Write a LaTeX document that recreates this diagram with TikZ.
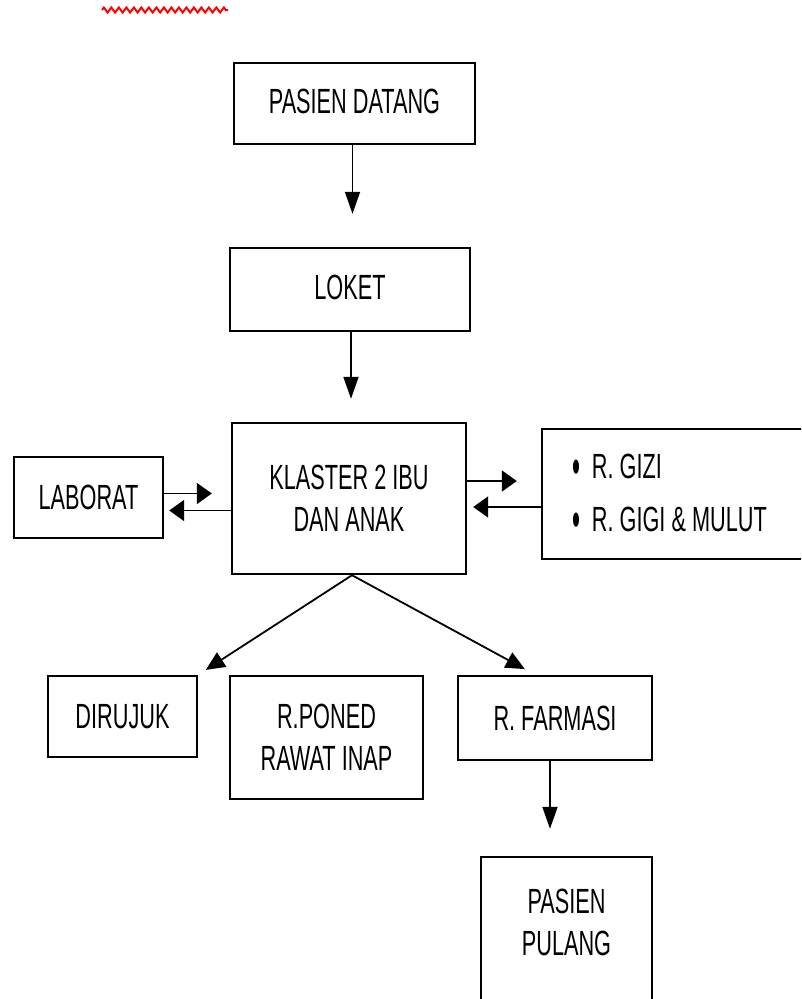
\documentclass[tikz,border=0pt]{standalone}
\usepackage{fontspec}
\setmainfont{Liberation Sans}[FakeStretch=0.62]
\usetikzlibrary{arrows.meta,decorations.pathmorphing,calc}
\newcommand{\mybul}{\raisebox{-5.5pt}{\scalebox{1.05}[1.5]{•}}}
\begin{document}
\begin{tikzpicture}[x=1pt,y=-1pt,
  box/.style={draw,line width=2.4pt,inner sep=0pt,align=center,font=\fontsize{35}{42}\selectfont},
  txt/.style={inner sep=0pt,align=center,font=\fontsize{35}{42}\selectfont},
  conn/.style={line width=1.8pt},
  vtip/.style={conn,-{Triangle[length=22pt,width=15pt]}},
  htip/.style={conn,-{Triangle[length=15pt,width=21pt]}},
  dtip/.style={conn,-{Triangle[length=19pt,width=17pt]}}]
\useasboundingbox (0,0) rectangle (801,999);
\clip (0,0) rectangle (801,999);
% red squiggle
\draw[red,line width=2pt,decorate,decoration={zigzag,segment length=7.5pt,amplitude=2.5pt}] (102,10) -- (228,10);
% boxes
\node[box,minimum width=241pt,minimum height=81pt] (pd) at (354.5,103.5) {\raisebox{4pt}{PASIEN DATANG}};
\node[box,minimum width=240pt,minimum height=83pt] (loket) at (350,289.5) {\raisebox{4pt}{LOKET}};
\node[box,minimum width=234pt,minimum height=151pt] (klaster) at (349,498.5) {KLASTER 2 IBU\\DAN ANAK};
\node[box,minimum width=149pt,minimum height=81pt] (lab) at (88.5,497.5) {LABORAT};
\node[box,minimum width=308pt,minimum height=130pt] (rbox) at (696,494) {};
\node[txt,anchor=west,align=left,font=\fontsize{35}{53}\selectfont] at ([xshift=31pt,yshift=-2pt]rbox.west) {\mybul\hspace{12pt}R. GIZI\\\mybul\hspace{12pt}R. GIGI \& MULUT};
\node[box,minimum width=149pt,minimum height=81pt] (dirujuk) at (122.5,716.5) {DIRUJUK};
\node[box,minimum width=193pt,minimum height=123pt] (poned) at (326.5,737.5) {R.PONED\\RAWAT INAP};
\node[box,minimum width=194pt,minimum height=84pt] (farmasi) at (555,718) {R. FARMASI};
\node[box,minimum width=171pt,minimum height=163pt] (pulang) at (566.5,938.5) {};
\node[txt] at ([yshift=16.5pt]pulang.center) {PASIEN\\PULANG};
% connectors
\draw[vtip,shorten >=33pt] ([xshift=-2pt]pd.south) -- ([xshift=-2pt]pd.south |- loket.north);
\draw[vtip,shorten >=23pt] ([xshift=1pt]loket.south) -- ([xshift=1pt]loket.south |- klaster.north);
\draw[htip,shorten >=19pt] ([yshift=4pt]lab.east) -- ([yshift=4pt]lab.east -| klaster.west);
\draw[htip,shorten >=5pt] ([yshift=-12pt]klaster.west) -- ([yshift=-12pt]klaster.west -| lab.east);
\draw[htip,shorten >=24pt] ([yshift=17.5pt]klaster.east) -- ([yshift=17.5pt]klaster.east -| rbox.west);
\draw[htip,shorten >=6pt] ([yshift=-13pt]rbox.west) -- ([yshift=-13pt]rbox.west -| klaster.east);
\draw[dtip,shorten >=9pt] ([xshift=3pt]klaster.south) -- (dirujuk.north east);
\coordinate (fin) at ($(farmasi.north west)!0.4!(farmasi.north east)$);
\draw[dtip,shorten >=12pt] ([xshift=3pt]klaster.south) -- (fin);
\draw[vtip,shorten >=27pt] ([xshift=-5pt]farmasi.south) -- ([xshift=-5pt]farmasi.south |- pulang.north);
\end{tikzpicture}
\end{document}
